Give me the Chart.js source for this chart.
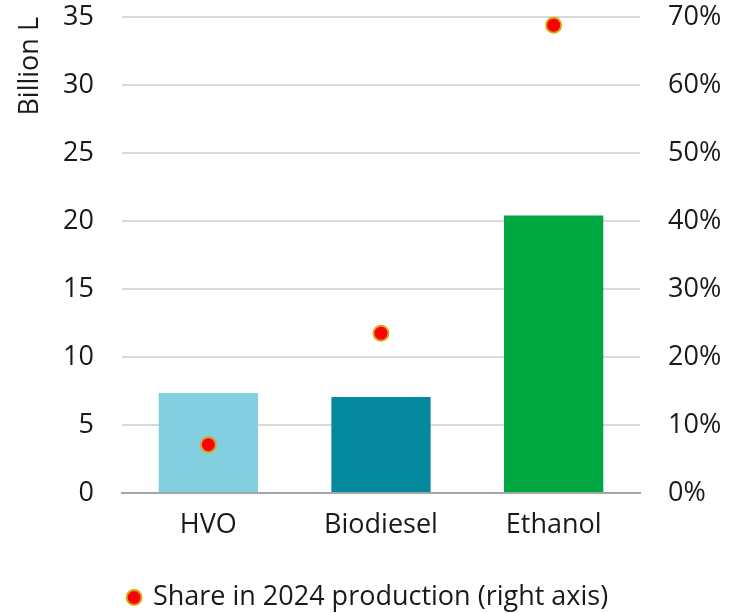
<!DOCTYPE html>
<html>
<head>
<meta charset="utf-8">
<script src="https://cdn.jsdelivr.net/npm/chart.js@4"></script>
<style>
  html, body { margin: 0; padding: 0; background: #fff; }
  #wrap { width: 737px; height: 613px; }
</style>
</head>
<body>
<div id="wrap"><canvas id="chart" width="737" height="613"></canvas></div>
<script>
const categories = ['HVO', 'Biodiesel', 'Ethanol'];
const productionBL = [7.35, 7.05, 20.4];       // billion litres (left axis)
const sharePct = [7.1, 23.5, 68.8];           // % share in 2024 production (right axis)
const barColors = ['#83CFE0', '#03889E', '#00A63F'];
const shareLabel = 'Share in 2024 production (right axis)';

const font = { family: "'Open Sans', 'Noto Sans', sans-serif", size: 27 };

new Chart(document.getElementById('chart'), {
  data: {
    labels: categories,
    datasets: [
      {
        type: 'line',
        label: shareLabel,
        data: sharePct,
        yAxisID: 'y2',
        showLine: false,
        pointRadius: 7.5,
        pointBackgroundColor: '#FF0000',
        pointBorderColor: '#D9A514',
        pointBorderWidth: 2,
        order: 0
      },
      {
        type: 'bar',
        label: 'Production',
        data: productionBL,
        backgroundColor: barColors,
        yAxisID: 'y',
        barPercentage: 0.575,
        categoryPercentage: 1,
        order: 1
      }
    ]
  },
  options: {
    responsive: false,
    animation: false,
    layout: { padding: { top: 17, left: 0, right: 0, bottom: -8 } },
    scales: {
      x: {
        grid: { display: false, drawTicks: false },
        border: { color: '#A6A6A6', width: 2 },
        ticks: { color: '#1a1a1a', font, padding: 16 },
        afterFit: s => { s.height = 90; }
      },
      y: {
        position: 'left',
        min: 0, max: 35,
        ticks: { stepSize: 5, color: '#1a1a1a', font, padding: 28 },
        grid: { color: '#D9D9D9', lineWidth: 2, drawTicks: false },
        border: { display: false },
        title: { display: true, text: 'Billion L', align: 'end', color: '#1a1a1a', font, padding: { top: 14, bottom: 0 } },
        afterFit: s => { s.width = 122; s.paddingTop = 0; s.paddingBottom = 0; }
      },
      y2: {
        position: 'right',
        min: 0, max: 70,
        ticks: { stepSize: 10, color: '#1a1a1a', font, padding: 28, callback: v => v + '%' },
        grid: { display: false, drawTicks: false },
        border: { display: false },
        afterFit: s => { s.width = 97; s.paddingTop = 0; s.paddingBottom = 0; }
      }
    },
    plugins: {
      legend: {
        position: 'bottom',
        labels: {
          font, color: '#1a1a1a',
          usePointStyle: true, boxWidth: 10.5, boxHeight: 10.5, padding: 1,
          filter: item => item.datasetIndex === 0
        }
      },
      tooltip: { enabled: false }
    }
  }
});
</script>
</body>
</html>
